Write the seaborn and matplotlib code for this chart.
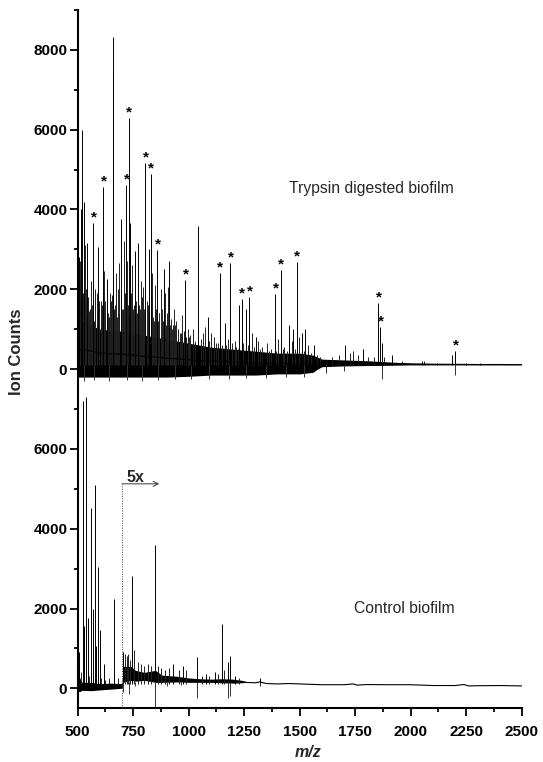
import numpy as np
import pandas as pd
import matplotlib
matplotlib.use("Agg")
import matplotlib.pyplot as plt
import seaborn as sns

# ---------------- data ----------------
OFFSET = 8000  # vertical stacking offset of the upper spectrum

# Trypsin digested biofilm: labelled / main peaks
top_peak_mz = [506, 514, 520, 528, 542, 571, 591, 614, 630, 657, 660, 693, 718, 730, 737,
               757, 773, 805, 829, 822, 857, 887, 912, 983, 1044, 1086, 1139, 1163, 1188,
               1227, 1238, 1257, 1273, 1302, 1389, 1414, 1454, 1472, 1486, 1509, 1525,
               1566, 1704, 1783, 1854, 1863, 1871, 1915, 2186, 2200]
top_peak_int = [2800, 4000, 6000, 4200, 3150, 3650, 3070, 4570, 2250, 7450, 8320, 3750, 4610,
                6300, 3650, 2950, 3150, 5170, 4900, 3000, 2990, 2500, 2700, 2240, 3580, 1300,
                2410, 1150, 2660, 1600, 1750, 1500, 1800, 800, 1890, 2490, 1100, 1000, 2680,
                900, 1000, 600, 600, 500, 1650, 1050, 650, 350, 350, 450]
top_peak_star = [0, 0, 0, 0, 0, 1, 0, 1, 0, 0, 0, 0, 1, 1, 0,
                 0, 0, 1, 1, 0, 1, 0, 0, 1, 0, 0, 1, 0, 1,
                 0, 1, 0, 1, 0, 1, 1, 0, 0, 1, 0, 0,
                 0, 0, 0, 1, 1, 0, 0, 0, 1]

# Trypsin digested biofilm: secondary peaks of the dense forest
top_minor_mz = [509, 515, 533, 538, 545, 552, 561, 565, 580, 585, 597, 607, 619, 625, 638,
                646, 654, 668, 674, 678, 682, 688, 701, 708, 712, 724, 740, 746, 752, 763,
                768, 779, 787, 790, 796, 800, 812, 830, 835, 840, 846, 852, 862, 865, 873,
                879, 893, 900, 906, 915, 920, 925, 932, 940, 945, 953, 960, 972, 995, 1000,
                1008, 1019, 1030, 1055, 1066, 1075, 1090, 1099, 1113, 1125, 1130, 1152, 1170,
                1175, 1195, 1207, 1215, 1222, 1246, 1265, 1285, 1295, 1312, 1320, 1332, 1351,
                1360, 1371, 1395, 1403, 1423, 1430, 1445, 1465, 1480, 1498, 1520, 1539, 1550,
                1580, 1591, 1645, 1677, 1727, 1740, 1763, 1807, 1834, 1880, 1959, 2050, 2061,
                2120, 2249, 2311]
top_minor_int = [2700, 1800, 3100, 2000, 1400, 1450, 2200, 1600, 1300, 1900, 1500, 1700, 2450,
                 1700, 1400, 1900, 1850, 1600, 2400, 1300, 2000, 2650, 1500, 3200, 1800, 2700,
                 1900, 2600, 1600, 1700, 1400, 1500, 2200, 1800, 2050, 1500, 1700, 1600, 2400,
                 1300, 2100, 1500, 1200, 1400, 2000, 1500, 1900, 1400, 2050, 1100, 1250, 1000,
                 1500, 1100, 1200, 900, 900, 1350, 1000, 800, 850, 1000, 700, 750, 900, 1050,
                 700, 900, 800, 650, 650, 600, 600, 750, 650, 700, 550, 500, 650, 600, 900, 550,
                 700, 500, 550, 650, 450, 500, 450, 750, 500, 550, 450, 700, 500, 800, 450, 600,
                 400, 350, 300, 300, 350, 400, 450, 350, 300, 300, 300, 200, 200, 200, 150, 150,
                 150]
top_fill_mz = [503, 511, 517, 524, 531, 536, 548, 556, 568, 574, 577, 588, 594, 603, 611,
               622, 633, 642, 650, 663, 671, 685, 696, 705, 715, 721, 727, 733, 743, 749,
               760, 776, 783, 793, 803, 815, 821, 833, 843, 849, 855, 868, 883, 890, 897,
               903, 910, 928, 936, 950, 965, 978, 988]
top_fill_int = [1600, 2200, 1500, 1900, 1700, 1300, 1800, 1500, 1700, 1200, 2000, 1400, 1700,
                1300, 1600, 1500, 1900, 1300, 1700, 1500, 1800, 1400, 1700, 1500, 1900, 1400,
                1600, 1300, 1700, 1500, 1300, 1600, 1400, 1500, 1300, 1600, 1400, 1700, 1200,
                1500, 1300, 1400, 1200, 1300, 1100, 1200, 1000, 1100, 900, 1000, 900, 950, 800]

# Trypsin digested biofilm: envelope of the dense noise band
top_band_mz = [500, 520, 600, 700, 800, 900, 1000, 1100, 1200, 1300, 1400, 1500, 1560, 1580,
               1600, 1700, 1800, 1900, 2000, 2100, 2200, 2300, 2400, 2500]
top_band_hi = [1100, 1200, 1000, 950, 850, 750, 650, 550, 500, 450, 400, 400, 350, 300,
               250, 230, 210, 180, 150, 140, 135, 125, 125, 120]
top_band_lo = [-200, -200, -200, -200, -200, -200, -180, -150, -150, -150, -120, -120, -80, 0,
               60, 80, 90, 95, 105, 105, 105, 105, 105, 105]
top_dip_mz = [530, 575, 640, 720, 790, 860, 940, 1010, 1090, 1180, 1260, 1350, 1440, 1520,
              1620, 1700, 1870, 2200]
top_dip_int = [-300, -280, -300, -280, -300, -280, -260, -250, -240, -250, -230, -220, -200,
               -200, -100, -50, -250, -150]

# Control biofilm
ctrl_peak_mz = [505, 524, 527, 539, 545, 561, 567, 577, 583, 591, 600, 618, 663, 702, 746,
                850, 930, 975, 1036, 1080, 1120, 1150, 1175, 1188, 1210, 1320]
ctrl_peak_int = [900, 7200, 1550, 7290, 1750, 4510, 2000, 5090, 1050, 3035, 1450, 600, 2234,
                 900, 2815, 3600, 600, 550, 780, 350, 400, 1600, 650, 800, 300, 250]
ctrl_minor_mz = [508, 515, 552, 605, 625, 640, 680, 705, 712, 720, 728, 736, 755, 770, 785,
                 800, 815, 830, 862, 875, 895, 912, 955, 990, 1060, 1090, 1130, 1160, 1225]
ctrl_minor_int = [650, 400, 300, 250, 200, 250, 250, 900, 850, 800, 850, 700, 950, 650, 600,
                  550, 600, 550, 550, 500, 450, 500, 450, 450, 300, 300, 350, 450, 250]
ctrl_dip_mz = [705, 730, 760, 850, 900, 965, 1036, 1175, 1188, 1320]
ctrl_dip_int = [-100, -150, 50, -700, 50, 80, -230, -250, -200, 50]

ctrl_band_mz = [500, 510, 520, 560, 600, 650, 695, 700, 705, 740, 760, 800, 850, 880, 950,
                1000, 1050, 1100, 1150, 1200, 1240, 1260]
ctrl_band_hi = [450, 250, 150, 150, 120, 130, 120, 150, 550, 550, 450, 400, 450, 330, 300,
                260, 240, 230, 240, 230, 200, 170]
ctrl_band_lo = [-80, -80, -50, -60, -40, -20, 0, 0, 150, 200, 180, 200, 150, 150, 160,
                150, 150, 150, 140, 130, 140, 150]
ctrl_base_mz = [1240, 1300, 1320, 1350, 1400, 1450, 1500, 1600, 1700, 1740, 1760, 1800, 1900,
                2000, 2100, 2200, 2240, 2260, 2300, 2400, 2500]
ctrl_base_int = [150, 140, 160, 120, 110, 120, 110, 90, 90, 110, 80, 95, 90, 90, 70, 70, 95,
                 60, 65, 70, 60]

x_ticks = [500, 750, 1000, 1250, 1500, 1750, 2000, 2250, 2500]
y_ticks = [0, 2000, 4000, 6000, 8000, 10000, 12000, 14000, 16000]
y_tick_labels = ["0", "2000", "4000", "6000", "0", "2000", "4000", "6000", "8000"]

# ---------------- figure ----------------
sns.set_theme(style="ticks")
plt.rcParams["font.family"] = ["Liberation Sans", "DejaVu Sans"]

fig = plt.figure(figsize=(5.43, 7.62), dpi=100)
ax = fig.add_axes([0.1431, 0.0705, 0.8177, 0.9164])

LW = 0.7
# --- top spectrum ---
ax.fill_between(top_band_mz, np.array(top_band_lo) + OFFSET, np.array(top_band_hi) + OFFSET,
                color="black", lw=0)
ax.vlines(top_fill_mz, OFFSET + 100, np.array(top_fill_int) + OFFSET, color="#1a1a1a", lw=LW)
ax.vlines(top_minor_mz, OFFSET + 100, np.array(top_minor_int) + OFFSET, color="#222222", lw=LW)
ax.vlines(top_peak_mz, OFFSET + 100, np.array(top_peak_int) + OFFSET, color="black", lw=LW)
ax.vlines(top_dip_mz, OFFSET + 100, np.array(top_dip_int) + OFFSET, color="#333333", lw=LW)
base_top = pd.DataFrame({"mz": top_band_mz,
                         "y": (np.array(top_band_hi) + np.array(top_band_lo)) / 2 + OFFSET})
sns.lineplot(data=base_top, x="mz", y="y", ax=ax, color="black", lw=0.8,
             estimator=None, sort=False)

for mz, h, s in zip(top_peak_mz, top_peak_int, top_peak_star):
    if s:
        ax.text(mz + 3, h + OFFSET + 40, "*", ha="center", va="baseline",
                fontsize=11, fontweight="bold", color="black")

# --- control spectrum ---
ax.fill_between(ctrl_band_mz, ctrl_band_lo, ctrl_band_hi, color="black", lw=0)
ax.vlines(ctrl_minor_mz, 100, ctrl_minor_int, color="#222222", lw=LW)
ax.vlines(ctrl_peak_mz, 100, ctrl_peak_int, color="black", lw=LW)
ax.vlines(ctrl_dip_mz, 150, ctrl_dip_int, color="#333333", lw=LW)
base_ctrl = pd.DataFrame({"mz": ctrl_base_mz, "y": ctrl_base_int})
sns.lineplot(data=base_ctrl, x="mz", y="y", ax=ax, color="black", lw=0.8,
             estimator=None, sort=False)

# 5x marker
ax.plot([700, 700], [-500, 5125], color="#444444", lw=0.7, ls=(0, (1, 1.5)))
ax.annotate("", xy=(867, 5125), xytext=(699, 5125),
            arrowprops=dict(arrowstyle="->", lw=0.7, color="#333333",
                            shrinkA=0, shrinkB=0, mutation_scale=9))
ax.text(760, 5180, "5x", ha="center", va="baseline", fontsize=11.5, fontweight="bold")

ax.text(1822, 12530, "Trypsin digested biofilm", ha="center", va="center", fontsize=11.3)
ax.text(1970, 2000, "Control biofilm", ha="center", va="center", fontsize=11.3)

# axes
ax.set_xlim(500, 2500)
ax.set_ylim(-500, 17000)
ax.set_xticks(x_ticks)
ax.set_xticks(np.arange(625, 2500, 250), minor=True)
ax.set_yticks(y_ticks)
ax.set_yticklabels(y_tick_labels)
ax.set_yticks(np.arange(1000, 17001, 2000), minor=True)
ax.tick_params(axis="both", which="major", direction="out", length=6, width=1.3,
               labelsize=11, color="black", labelcolor="black")
ax.tick_params(axis="both", which="minor", direction="out", length=3, width=1.3,
               color="black")
ax.tick_params(axis="y", which="major", pad=1.5)
ax.tick_params(axis="x", which="major", pad=6)
for lab in ax.get_xticklabels() + ax.get_yticklabels():
    lab.set_fontweight("bold")

for side in ["top", "right"]:
    ax.spines[side].set_visible(False)
for side in ["left", "bottom"]:
    ax.spines[side].set_linewidth(1.5)
    ax.spines[side].set_color("black")

ax.set_xlabel("m/z", fontsize=11.5, fontweight="bold", fontstyle="italic")
ax.set_ylabel("Ion Counts", fontsize=12, fontweight="bold")
ax.xaxis.set_label_coords(0.52, -0.053)
ax.yaxis.set_label_coords(-0.121, 0.51)
ax.grid(False)

fig.savefig("out.png", dpi=100, facecolor="white")
